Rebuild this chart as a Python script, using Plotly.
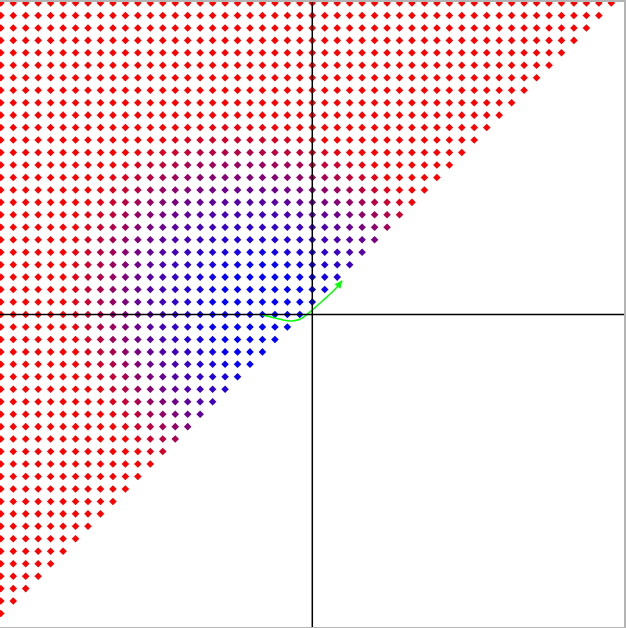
import numpy as np
import plotly.graph_objects as go

# grid of sample points (integer lattice), only points with y > x are drawn
grid_vals = list(range(-25, 26))

obs_x = [-17, -16, -15, -14, -13, -12, -11, -10,
         -17, -16, -15, -14, -13, -12, -11, -10, -9, -6,
         -13, -12, -11, -10, -11,
         -7, -8, -9,
         2, 3, 4, 5,
         -15, -14, -13, -12, -11, -10, -9, -5, 0, 1, 2, 3, 4, 5, 6,
         -16, -15, -14, -13, -12, -11, -10, -6, -2, 0, 1, 2, 3, 4, 5, 6,
         -16, -15, -14, -13, -12, -11, -7, -3, 0, 1, 2, 3, 4, 5, 6,
         -16, -15, -14, -13, -12, -11, -7, -1, 1, 3, 4, 5, 6,
         -15, -14, -13, -12, -8, -4, 0, 1, 2,
         -14, -13, -12, -7, -3, 0, 1, 2,
         -13, -10, -5, -1, 1,
         -7, -3]
obs_y = [0, 0, 0, 0, 0, 0, 0, 0,
         -5, -5, -5, -5, -5, -5, -5, -5, -5, -5,
         -9, -9, -9, -9, -10,
         -6, -7, -8,
         3, 4, 5, 6,
         7, 7, 7, 7, 7, 7, 7, 7, 7, 7, 7, 7, 7, 7, 7,
         8, 8, 8, 8, 8, 8, 8, 8, 8, 8, 8, 8, 8, 8, 8, 8,
         9, 9, 9, 9, 9, 9, 9, 9, 9, 9, 9, 9, 9, 9, 9,
         10, 10, 10, 10, 10, 10, 10, 10, 10, 10, 10, 10, 10,
         11, 11, 11, 11, 11, 11, 11, 11, 11,
         12, 12, 12, 12, 12, 12, 12, 12,
         13, 13, 13, 13, 13,
         14, 14]
obs_t = [.88, .75, .62, .5, .42, .35, .25, .12,
         .85, .75, .62, .55, .47, .4, .3, .2, .08, .15,
         .6, .55, .5, .55, .65,
         .3, .4, .5,
         .2, .3, .4, .55,
         .65, .55, .45, .4, .3, .2, .15, .1, .15, .25, .3, .4, .5, .6, .65,
         .8, .7, .6, .52, .45, .38, .3, .25, .25, .3, .35, .4, .45, .55, .65, .7,
         .85, .75, .65, .55, .5, .45, .37, .4, .4, .45, .5, .55, .65, .75, .8,
         .9, .8, .7, .65, .58, .55, .5, .5, .6, .65, .75, .8, .85,
         .85, .8, .72, .65, .6, .6, .65, .7, .75,
         .85, .8, .75, .7, .7, .75, .8, .85,
         .9, .82, .82, .85, .9,
         .9, .9]

# trajectory (green curve)
path_x = [-4.0, -3.0, -2.0, -1.5, -1.0, -0.5, 0.0, 0.5, 1.0, 1.5, 2.0, 2.4]
path_y = [-0.04, -0.28, -0.5, -0.5, -0.38, -0.05, 0.35, 0.8, 1.25, 1.7, 2.2, 2.72]

# smooth colour field through the observed samples
ox, oy, ot = np.array(obs_x, float), np.array(obs_y, float), np.array(obs_t, float)
A = np.column_stack([ox**2, oy**2, ox*oy, ox, oy, np.ones_like(ox)])
best = None
for r0 in np.linspace(0, 3, 61):
    coef, *_ = np.linalg.lstsq(A, (ot + r0)**2, rcond=None)
    th = np.sqrt(np.maximum(A @ coef, 0)) - r0
    err = np.sum((th - ot)**2)
    if best is None or err < best[0]:
        best = (err, r0, coef)
_, r0, coef = best

px, py = [], []
for yv in grid_vals:
    for xv in grid_vals:
        if yv > xv:
            px.append(xv)
            py.append(yv)
px, py = np.array(px, float), np.array(py, float)
q = coef[0]*px**2 + coef[1]*py**2 + coef[2]*px*py + coef[3]*px + coef[4]*py + coef[5]
t = np.clip(np.sqrt(np.maximum(q, 0)) - r0, 0, 1)
colors = [f"rgb({int(round(255*v))},0,{int(round(255*(1-v)))})" for v in t]

fig = go.Figure()
fig.add_trace(go.Scatter(x=px, y=py, mode="markers",
                         marker=dict(symbol="diamond", size=5.8, color=colors, line=dict(width=0)),
                         hoverinfo="skip", showlegend=False))
fig.add_trace(go.Scatter(x=path_x, y=path_y, mode="lines",
                         line=dict(color="#00ff00", width=1.5, shape="spline", smoothing=0.8),
                         hoverinfo="skip", showlegend=False))
fig.add_annotation(x=path_x[-1], y=path_y[-1], ax=path_x[-2], ay=path_y[-2],
                   xref="x", yref="y", axref="x", ayref="y", text="",
                   showarrow=True, arrowhead=2, arrowsize=1, arrowwidth=1.5,
                   arrowcolor="#00ff00", standoff=0)
fig.add_shape(type="line", xref="x", yref="paper", x0=0, x1=0, y0=0, y1=1,
              line=dict(color="black", width=1.5), layer="above")
fig.add_shape(type="line", xref="paper", yref="y", x0=0, x1=1, y0=0, y1=0,
              line=dict(color="black", width=1.5), layer="above")

fig.update_layout(
    width=626, height=628,
    margin=dict(l=0, r=0, t=0, b=1),
    plot_bgcolor="white", paper_bgcolor="white",
    xaxis=dict(range=[-25.064, 25.016], showgrid=False, zeroline=False, showticklabels=False,
               ticks="", showline=True, mirror=True, linecolor="#b4b4b4", linewidth=2),
    yaxis=dict(range=[-25.08, 25.08], showgrid=False, zeroline=False, showticklabels=False,
               ticks="", showline=True, mirror=True, linecolor="#b4b4b4", linewidth=2),
)
fig.write_html("out.html", config={"displayModeBar": False},
               post_script="document.body.style.margin='0';document.body.style.padding='0';"
                           "document.documentElement.style.overflow='hidden';")
